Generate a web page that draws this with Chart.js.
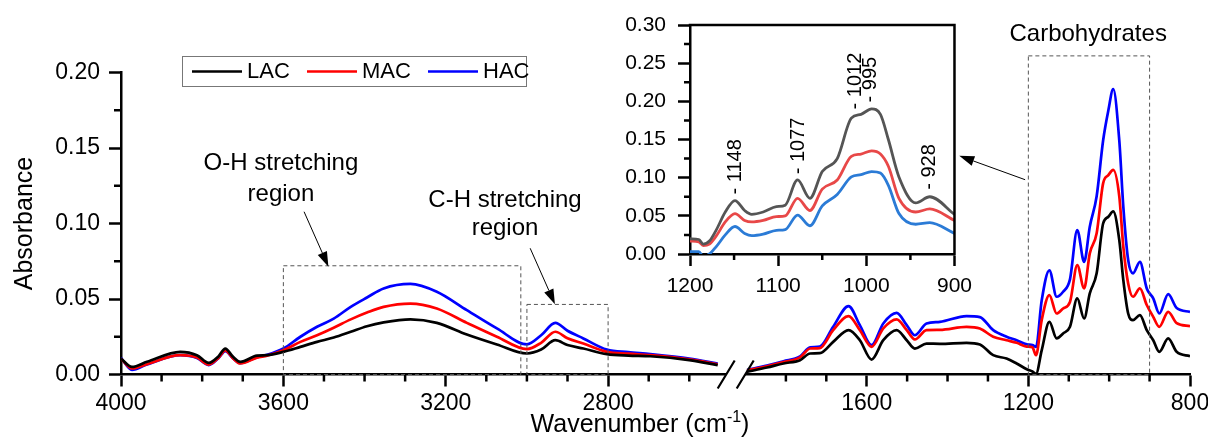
<!DOCTYPE html>
<html>
<head>
<meta charset="utf-8">
<script src="https://cdn.jsdelivr.net/npm/chart.js@4.4.1/dist/chart.umd.min.js"></script>
<style>
  html, body { margin: 0; padding: 0; background: #fff; }
  #wrap { position: relative; width: 1208px; height: 441px; overflow: hidden; }
  .box { position: absolute; }
  #leftBox { left: 0; top: 0; width: 780px; height: 441px; }
  #rightBox { left: 700px; top: 0; width: 540px; height: 441px; }
  #insetBox { left: 600px; top: 0; width: 380px; height: 310px; }
</style>
</head>
<body>
<div id="wrap">
  <div class="box" id="leftBox"><canvas id="leftChart"></canvas></div>
  <div class="box" id="rightBox"><canvas id="rightChart"></canvas></div>
  <div class="box" id="insetBox"><canvas id="insetChart"></canvas></div>
</div>
<script>
// ---- data: 4000-2500 cm-1 part of the spectra ----
const highWn  = [4000, 3973, 3936, 3854, 3813, 3784, 3760, 3743, 3725, 3706, 3665, 3640, 3600, 3558, 3517, 3476, 3434, 3394, 3353, 3287, 3222, 3148, 3074, 3000, 2965, 2930, 2900, 2861, 2803, 2750, 2696, 2600, 2530];
const highLAC = [0.0106, 0.0050, 0.0084, 0.0150, 0.0128, 0.0077, 0.0120, 0.0172, 0.0120, 0.0084, 0.0125, 0.0128, 0.0150, 0.0183, 0.0216, 0.0245, 0.0283, 0.0320, 0.0345, 0.0365, 0.0342, 0.0265, 0.0199, 0.0139, 0.0165, 0.0227, 0.0195, 0.0172, 0.0135, 0.0125, 0.0121, 0.0095, 0.0062];
const highMAC = [0.0105, 0.0040, 0.0068, 0.0128, 0.0112, 0.0066, 0.0110, 0.0160, 0.0110, 0.0073, 0.0112, 0.0125, 0.0160, 0.0216, 0.0260, 0.0310, 0.0365, 0.0410, 0.0448, 0.0470, 0.0437, 0.0342, 0.0250, 0.0168, 0.0210, 0.0283, 0.0240, 0.0205, 0.0150, 0.0138, 0.0128, 0.0100, 0.0068];
const highHAC = [0.0110, 0.0030, 0.0066, 0.0128, 0.0110, 0.0062, 0.0108, 0.0155, 0.0110, 0.0075, 0.0115, 0.0130, 0.0172, 0.0250, 0.0316, 0.0370, 0.0448, 0.0510, 0.0570, 0.0600, 0.0548, 0.0426, 0.0305, 0.0200, 0.0260, 0.0342, 0.0290, 0.0239, 0.0165, 0.0148, 0.0135, 0.0105, 0.0072];

// ---- data: 1900-800 cm-1 part of the spectra ----
const lowWn  = [1897, 1847, 1806, 1765, 1740, 1716, 1683, 1645, 1617, 1588, 1559, 1526, 1501, 1481, 1452, 1419, 1353, 1320, 1287, 1254, 1229, 1204, 1190, 1181, 1167, 1148, 1130, 1114, 1097, 1079, 1062, 1048, 1031, 1015, 1002, 990, 975, 965, 953, 941, 924, 907, 891, 876, 854, 833, 800];
const lowLAC = [0.0017, 0.0046, 0.0073, 0.0095, 0.0139, 0.0141, 0.0216, 0.0294, 0.0227, 0.0099, 0.0227, 0.0294, 0.0227, 0.0172, 0.0205, 0.0203, 0.0210, 0.0199, 0.0128, 0.0106, 0.0073, 0.0035, 0.0020, 0.0005, 0.0160, 0.0349, 0.0239, 0.0272, 0.0316, 0.0504, 0.0371, 0.0537, 0.0670, 0.1000, 0.1045, 0.1080, 0.0890, 0.0625, 0.0404, 0.0360, 0.0393, 0.0294, 0.0227, 0.0150, 0.0239, 0.0150, 0.0121];
const lowMAC = [0.0027, 0.0055, 0.0082, 0.0113, 0.0172, 0.0175, 0.0294, 0.0387, 0.0294, 0.0183, 0.0305, 0.0365, 0.0294, 0.0232, 0.0294, 0.0296, 0.0316, 0.0305, 0.0250, 0.0227, 0.0210, 0.0185, 0.0180, 0.0128, 0.0360, 0.0526, 0.0404, 0.0437, 0.0480, 0.0725, 0.0570, 0.0802, 0.0935, 0.1266, 0.1320, 0.1355, 0.1180, 0.0846, 0.0603, 0.0515, 0.0570, 0.0460, 0.0382, 0.0316, 0.0415, 0.0340, 0.0320];
const lowHAC = [0.0030, 0.0060, 0.0088, 0.0120, 0.0180, 0.0185, 0.0316, 0.0453, 0.0327, 0.0194, 0.0338, 0.0408, 0.0327, 0.0260, 0.0338, 0.0349, 0.0387, 0.0380, 0.0294, 0.0250, 0.0227, 0.0200, 0.0195, 0.0183, 0.0490, 0.0690, 0.0515, 0.0548, 0.0630, 0.0957, 0.0746, 0.0979, 0.1180, 0.1550, 0.1750, 0.1890, 0.1550, 0.1110, 0.0758, 0.0670, 0.0746, 0.0570, 0.0504, 0.0404, 0.0532, 0.0440, 0.0415];

// ---- data: inset, 1200-900 cm-1 ----
const insetWn   = [1200, 1190, 1185, 1178, 1170, 1160, 1149, 1138, 1130, 1117, 1102, 1092, 1078, 1064, 1050, 1033, 1017, 1006, 994, 984, 975, 963, 944, 928, 900];
const insetGray = [0.020, 0.019, 0.013, 0.017, 0.032, 0.055, 0.070, 0.057, 0.052, 0.055, 0.062, 0.064, 0.097, 0.073, 0.108, 0.125, 0.178, 0.183, 0.190, 0.183, 0.150, 0.101, 0.067, 0.075, 0.052];
const insetRed  = [0.017, 0.016, 0.011, 0.013, 0.024, 0.042, 0.053, 0.044, 0.042, 0.044, 0.049, 0.050, 0.073, 0.057, 0.085, 0.097, 0.128, 0.131, 0.135, 0.131, 0.115, 0.073, 0.055, 0.059, 0.044];
const insetBlue = [0.003, 0.003, -0.003, 0.000, 0.010, 0.025, 0.036, 0.027, 0.024, 0.026, 0.031, 0.032, 0.051, 0.037, 0.063, 0.078, 0.101, 0.104, 0.108, 0.106, 0.090, 0.053, 0.039, 0.041, 0.027];
const peakLabels = [1148, 1077, 1012, 995, 928];

// ---- ticks ----
const leftMajorX  = [4000, 3600, 3200, 2800];
const leftMinorX  = [3900, 3800, 3700, 3500, 3400, 3300, 3100, 3000, 2900, 2700, 2600];
const rightMajorX = [1600, 1200, 800];
const rightMinorX = [1800, 1700, 1500, 1400, 1300, 1100, 1000, 900];
const mainMajorY  = [0, 0.05, 0.10, 0.15, 0.20];
const mainMinorY  = [0.025, 0.075, 0.125, 0.175];
const insetMajorX = [1200, 1100, 1000, 900];
const insetMinorX = [1150, 1050, 950];
const insetMajorY = [0, 0.05, 0.10, 0.15, 0.20, 0.25, 0.30];
const insetMinorY = [0.025, 0.075, 0.125, 0.175, 0.225, 0.275];

const FONT = '"Liberation Sans", Arial, sans-serif';
Chart.defaults.font.family = FONT;
Chart.defaults.color = '#000';

function lineSet(label, xs, ys, color, width) {
    return {
        label: label,
        data: xs.map((x, i) => ({ x: x, y: ys[i] })),
        borderColor: color,
        borderWidth: width,
        pointRadius: 0,
        fill: false,
        cubicInterpolationMode: 'monotone'
    };
}

function xAxis(min, max, majors, o) {
    return {
        type: 'linear', reverse: true, min: min, max: max,
        afterBuildTicks: s => { s.ticks = majors.map(v => ({ value: v })); },
        afterFit: s => { s.height = o.height; },
        ticks: { autoSkip: false, maxRotation: 0, padding: o.pad, font: { size: o.font }, color: '#000', callback: v => String(v) },
        grid: { drawOnChartArea: false, tickLength: o.tick, tickWidth: 2.5, tickColor: '#000' },
        border: { color: '#000', width: 2.5 }
    };
}

function yAxis(max, majors, o) {
    return {
        type: 'linear', min: 0, max: max, display: o.display,
        afterBuildTicks: s => { s.ticks = majors.map(v => ({ value: v })); },
        afterFit: s => { s.width = o.width; },
        ticks: { padding: o.pad, font: { size: o.font }, color: '#000', callback: v => v.toFixed(2) },
        grid: { drawOnChartArea: false, tickLength: o.tick, tickWidth: 2.5, tickColor: '#000' },
        border: { color: '#000', width: 2.5 },
        title: o.title ? { display: true, text: o.title, font: { size: 25 }, color: '#000', padding: { top: 10, bottom: 0 } } : { display: false }
    };
}

function minorTicks(chart, id, values, len) {
    const s = chart.scales[id], a = chart.chartArea, ctx = chart.ctx;
    ctx.save();
    ctx.strokeStyle = '#000';
    ctx.lineWidth = 2.5;
    ctx.beginPath();
    values.forEach(v => {
        const p = s.getPixelForValue(v);
        if (s.isHorizontal()) { ctx.moveTo(p, a.bottom); ctx.lineTo(p, a.bottom + len); }
        else { ctx.moveTo(a.left, p); ctx.lineTo(a.left - len, p); }
    });
    ctx.stroke();
    ctx.restore();
}

function dashedBox(chart, x1, x2, yTop) {
    const ctx = chart.ctx, xs = chart.scales.x, ys = chart.scales.y;
    const l = xs.getPixelForValue(x1), r = xs.getPixelForValue(x2);
    const t = ys.getPixelForValue(yTop), b = ys.getPixelForValue(0);
    ctx.save();
    ctx.strokeStyle = '#555';
    ctx.lineWidth = 1;
    ctx.setLineDash([4, 3]);
    ctx.strokeRect(l, t, r - l, b - t);
    ctx.restore();
}

function arrow(ctx, x1, y1, x2, y2) {
    const ang = Math.atan2(y2 - y1, x2 - x1), len = 15, w = 5;
    ctx.save();
    ctx.strokeStyle = '#000';
    ctx.fillStyle = '#000';
    ctx.lineWidth = 1;
    ctx.beginPath();
    ctx.moveTo(x1, y1);
    ctx.lineTo(x2 - Math.cos(ang) * len, y2 - Math.sin(ang) * len);
    ctx.stroke();
    ctx.beginPath();
    ctx.moveTo(x2, y2);
    ctx.lineTo(x2 - Math.cos(ang) * len - Math.sin(ang) * w, y2 - Math.sin(ang) * len + Math.cos(ang) * w);
    ctx.lineTo(x2 - Math.cos(ang) * len + Math.sin(ang) * w, y2 - Math.sin(ang) * len - Math.cos(ang) * w);
    ctx.closePath();
    ctx.fill();
    ctx.restore();
}

function text(ctx, str, x, y, size) {
    ctx.save();
    ctx.font = size + 'px ' + FONT;
    ctx.fillStyle = '#000';
    ctx.textAlign = 'center';
    ctx.textBaseline = 'middle';
    ctx.fillText(str, x, y);
    ctx.restore();
}

const common = {
    responsive: true,
    maintainAspectRatio: false,
    animation: false,
    events: [],
    plugins: { legend: { display: false }, tooltip: { enabled: false } }
};

// left part: 4000 - 2500
const leftDecor = {
    id: 'leftDecor',
    afterDraw(chart) {
        const ctx = chart.ctx, xs = chart.scales.x, ys = chart.scales.y;
        minorTicks(chart, 'x', leftMinorX, 7);
        minorTicks(chart, 'y', mainMinorY, 7);

        // legend
        ctx.save();
        ctx.strokeStyle = '#777';
        ctx.lineWidth = 1;
        ctx.strokeRect(182.5, 56.5, 344, 30);
        const starts = [192, 307, 428];
        chart.data.datasets.forEach((d, i) => {
            ctx.strokeStyle = d.borderColor;
            ctx.lineWidth = 2.5;
            ctx.beginPath();
            ctx.moveTo(starts[i], 71.5);
            ctx.lineTo(starts[i] + 50, 71.5);
            ctx.stroke();
            ctx.font = '22px ' + FONT;
            ctx.fillStyle = '#000';
            ctx.textBaseline = 'middle';
            ctx.fillText(d.label, starts[i] + 55, 72);
        });
        ctx.restore();

        // O-H region
        dashedBox(chart, 3600, 3015, 0.072);
        text(ctx, 'O-H stretching', xs.getPixelForValue(3606), ys.getPixelForValue(0.1395), 24);
        text(ctx, 'region', xs.getPixelForValue(3606), ys.getPixelForValue(0.1194), 24);
        arrow(ctx, xs.getPixelForValue(3549), ys.getPixelForValue(0.1078), xs.getPixelForValue(3489), ys.getPixelForValue(0.0714));

        // C-H region
        dashedBox(chart, 3000, 2800, 0.0464);
        text(ctx, 'C-H stretching', xs.getPixelForValue(3054), ys.getPixelForValue(0.1156), 24);
        text(ctx, 'region', xs.getPixelForValue(3054), ys.getPixelForValue(0.0968), 24);
        arrow(ctx, xs.getPixelForValue(2992), ys.getPixelForValue(0.0836), xs.getPixelForValue(2931), ys.getPixelForValue(0.0466));

        // x title with superscript
        ctx.save();
        ctx.fillStyle = '#000';
        ctx.textBaseline = 'alphabetic';
        const big = '25px ' + FONT, small = '16px ' + FONT;
        ctx.font = big;
        const w1 = ctx.measureText('Wavenumber (cm').width, w3 = ctx.measureText(')').width;
        ctx.font = small;
        const w2 = ctx.measureText('-1').width;
        let x = 640 - (w1 + w2 + w3) / 2;
        const base = 432;
        ctx.font = big; ctx.fillText('Wavenumber (cm', x, base); x += w1;
        ctx.font = small; ctx.fillText('-1', x, base - 10); x += w2;
        ctx.font = big; ctx.fillText(')', x, base);
        ctx.restore();
    }
};

new Chart(document.getElementById('leftChart'), {
    type: 'line',
    data: {
        datasets: [
            lineSet('LAC', highWn, highLAC, '#000000', 2.7),
            lineSet('MAC', highWn, highMAC, '#ff0000', 2.7),
            lineSet('HAC', highWn, highHAC, '#0000ff', 2.7)
        ]
    },
    options: {
        ...common,
        layout: { padding: { top: 72.5, right: 55, bottom: 0, left: 0 } },
        scales: {
            x: xAxis(2512, 4000, leftMajorX, { height: 66.5, pad: 3, font: 23, tick: 12 }),
            y: yAxis(0.2, mainMajorY, { display: true, width: 121, pad: 9, font: 23, tick: 12, title: 'Absorbance' })
        }
    },
    plugins: [leftDecor]
});

// right part: 1900 - 800
const rightDecor = {
    id: 'rightDecor',
    afterDraw(chart) {
        const ctx = chart.ctx, xs = chart.scales.x, ys = chart.scales.y, a = chart.chartArea;
        minorTicks(chart, 'x', rightMinorX, 7);

        // axis break marks
        ctx.save();
        ctx.strokeStyle = '#000';
        ctx.lineWidth = 2.2;
        ctx.beginPath();
        ctx.moveTo(a.left - 29, a.bottom + 14); ctx.lineTo(a.left - 12, a.bottom - 14);
        ctx.moveTo(a.left - 10, a.bottom + 14); ctx.lineTo(a.left + 7, a.bottom - 14);
        ctx.stroke();
        ctx.restore();

        // carbohydrates region
        dashedBox(chart, 1200, 900, 0.211);
        text(ctx, 'Carbohydrates', xs.getPixelForValue(1052), ys.getPixelForValue(0.2255), 24);
        arrow(ctx, xs.getPixelForValue(1208), ys.getPixelForValue(0.129), xs.getPixelForValue(1371), ys.getPixelForValue(0.1448));
    }
};

new Chart(document.getElementById('rightChart'), {
    type: 'line',
    data: {
        datasets: [
            lineSet('LAC', lowWn, lowLAC, '#000000', 2.7),
            lineSet('MAC', lowWn, lowMAC, '#ff0000', 2.7),
            lineSet('HAC', lowWn, lowHAC, '#0000ff', 2.7)
        ]
    },
    options: {
        ...common,
        layout: { padding: { top: 72.5, right: 50, bottom: 0, left: 46.7 } },
        scales: {
            x: xAxis(800, 1897, rightMajorX, { height: 66.5, pad: 3, font: 23, tick: 12 }),
            y: yAxis(0.2, mainMajorY, { display: false, width: 0, pad: 0, font: 23, tick: 0 })
        }
    },
    plugins: [rightDecor]
});

// inset: 1200 - 900
function grayAt(wn) {
    for (let i = 0; i < insetWn.length - 1; i++) {
        if (wn <= insetWn[i] && wn >= insetWn[i + 1]) {
            const t = (insetWn[i] - wn) / (insetWn[i] - insetWn[i + 1]);
            return insetGray[i] + t * (insetGray[i + 1] - insetGray[i]);
        }
    }
    return 0;
}

const insetDecor = {
    id: 'insetDecor',
    afterDraw(chart) {
        const ctx = chart.ctx, xs = chart.scales.x, ys = chart.scales.y, a = chart.chartArea;
        minorTicks(chart, 'x', insetMinorX, 6);
        minorTicks(chart, 'y', insetMinorY, 6);

        // top and right frame
        ctx.save();
        ctx.strokeStyle = '#000';
        ctx.lineWidth = 2.5;
        ctx.beginPath();
        ctx.moveTo(a.left - 1.25, a.top); ctx.lineTo(a.right, a.top); ctx.lineTo(a.right, a.bottom + 1.25);
        ctx.stroke();
        ctx.restore();

        // peak labels, rotated
        ctx.save();
        ctx.font = '20px ' + FONT;
        ctx.fillStyle = '#000';
        ctx.textAlign = 'left';
        ctx.textBaseline = 'middle';
        peakLabels.forEach(wn => {
            const x = xs.getPixelForValue(wn), y = ys.getPixelForValue(grayAt(wn)) - 7;
            ctx.save();
            ctx.translate(x, y);
            ctx.rotate(-Math.PI / 2);
            ctx.fillText('- ' + wn, 0, 0);
            ctx.restore();
        });
        ctx.restore();
    }
};

new Chart(document.getElementById('insetChart'), {
    type: 'line',
    data: {
        datasets: [
            lineSet('LAC', insetWn, insetGray, '#555555', 2.8),
            lineSet('MAC', insetWn, insetRed, '#e84848', 2.8),
            lineSet('HAC', insetWn, insetBlue, '#2b7bd6', 2.8)
        ]
    },
    options: {
        ...common,
        layout: { padding: { top: 25, right: 23, bottom: 0, left: 0 } },
        scales: {
            x: xAxis(900, 1200, insetMajorX, { height: 56, pad: 8, font: 21, tick: 12 }),
            y: yAxis(0.3, insetMajorY, { display: true, width: 90, pad: 12, font: 21, tick: 12 })
        }
    },
    plugins: [insetDecor]
});
</script>
</body>
</html>
